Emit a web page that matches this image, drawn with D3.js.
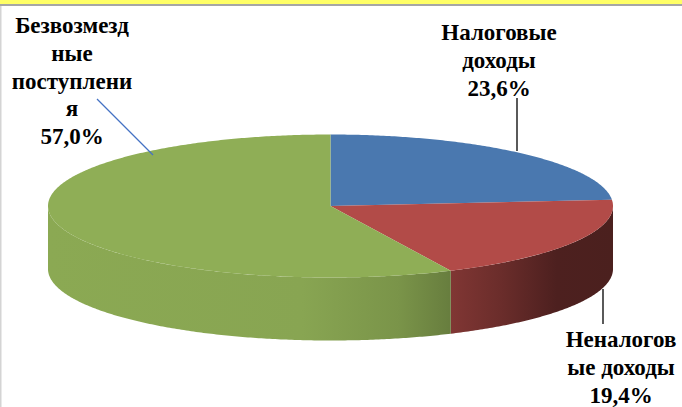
<!DOCTYPE html>
<html><head><meta charset="utf-8">
<script src="https://cdn.jsdelivr.net/npm/d3@7"></script>
</head><body>
<script>
// ---- data ----
const categories = ["Налоговые доходы", "Неналоговые доходы", "Безвозмездные поступления"];
const values = [23.6, 19.4, 57.0];
const valueLabels = ["23,6%", "19,4%", "57,0%"];
const labelLines = [["Налоговые", "доходы"], ["Неналогов", "ые доходы"], ["Безвозмезд", "ные", "поступлени", "я"]];
const topColors = ["#4a78af", "#b24b48", "#8fae56"];

// ---- layout ----
const W = 682, H = 407;
const cx = 330.5, cy = 206, rx = 282.5, ry = 71.5, depth = 63;
const FONT = '"Liberation Serif", Tinos, "Times New Roman", serif';

d3.select("body").style("margin", "0").style("padding", "0").style("overflow", "hidden");
const svg = d3.select("body").append("svg").attr("width", W).attr("height", H).style("display", "block");

// frame bits
svg.append("rect").attr("x", 0).attr("y", 0).attr("width", W).attr("height", 4).attr("fill", "#ffff66");
svg.append("rect").attr("x", 0).attr("y", 4).attr("width", W).attr("height", 2).attr("fill", "#a6a6a6");
svg.append("rect").attr("x", 0).attr("y", 6).attr("width", 1.5).attr("height", H - 6).attr("fill", "#d4d4d4");

const pie = d3.pie().sort(null).startAngle(0).endAngle(2 * Math.PI).value(d => d);
const arcs = pie(values);

const px = t => cx + rx * Math.sin(t);
const py = t => cy - ry * Math.cos(t);

// side shading gradients (lighting by x)
const defs = svg.append("defs");
const shade = [[0, 0.97], [0.45, 0.95], [0.62, 0.85], [0.8, 0.6], [0.9, 0.43], [1, 0.42]];
topColors.forEach((c, i) => {
  const g = defs.append("linearGradient").attr("id", "side" + i)
    .attr("gradientUnits", "userSpaceOnUse")
    .attr("x1", cx - rx).attr("x2", cx + rx).attr("y1", 0).attr("y2", 0);
  const base = d3.rgb(c);
  shade.forEach(([o, f]) => {
    g.append("stop").attr("offset", o)
      .attr("stop-color", d3.rgb(base.r * f, base.g * f, base.b * f).formatHex());
  });
});

function arcPoints(a0, a1, dy) {
  const n = Math.max(2, Math.ceil((a1 - a0) / 0.01));
  return d3.range(n + 1).map(k => {
    const t = a0 + (a1 - a0) * k / n;
    return [px(t), py(t) + dy];
  });
}

// side walls (front half only)
arcs.forEach((a, i) => {
  const s = Math.max(a.startAngle, Math.PI / 2);
  const e = Math.min(a.endAngle, 3 * Math.PI / 2);
  if (e <= s) return;
  const top = arcPoints(s, e, 0);
  const bot = arcPoints(s, e, depth).reverse();
  svg.append("path")
    .attr("d", d3.line()(top.concat(bot)) + "Z")
    .attr("fill", `url(#side${i})`);
});

// top faces
arcs.forEach((a, i) => {
  const pts = [[cx, cy]].concat(arcPoints(a.startAngle, a.endAngle, 0));
  svg.append("path")
    .attr("d", d3.line()(pts) + "Z")
    .attr("fill", topColors[i]);
});

// leader lines
const leaders = [
  {x1: 517, y1: 98, x2: 517, y2: 151, c: "#000"},
  {x1: 603, y1: 289, x2: 603, y2: 324, c: "#000"},
  {x1: 97, y1: 99, x2: 153, y2: 155, c: "#4472c4"}
];
leaders.forEach(l => svg.append("line").attr("x1", l.x1).attr("y1", l.y1)
  .attr("x2", l.x2).attr("y2", l.y2).attr("stroke", l.c).attr("stroke-width", 1.3));

// labels: one text element per line
const labelPos = [
  {x: 499, y: 40},
  {x: 621, y: 347},
  {x: 72, y: 33}
];
const lineH = 27.8;
arcs.forEach((a, i) => {
  labelLines[i].concat([valueLabels[i]]).forEach((s, k) => {
    svg.append("text")
      .attr("x", labelPos[i].x).attr("y", labelPos[i].y + k * lineH)
      .attr("text-anchor", "middle").attr("fill", "#000")
      .attr("font-family", FONT).attr("font-weight", "bold").attr("font-size", 23)
      .style("font-family", FONT, "important").style("font-weight", "bold", "important")
      .style("font-size", "23px", "important")
      .text(s);
  });
});
</script>
</body></html>
